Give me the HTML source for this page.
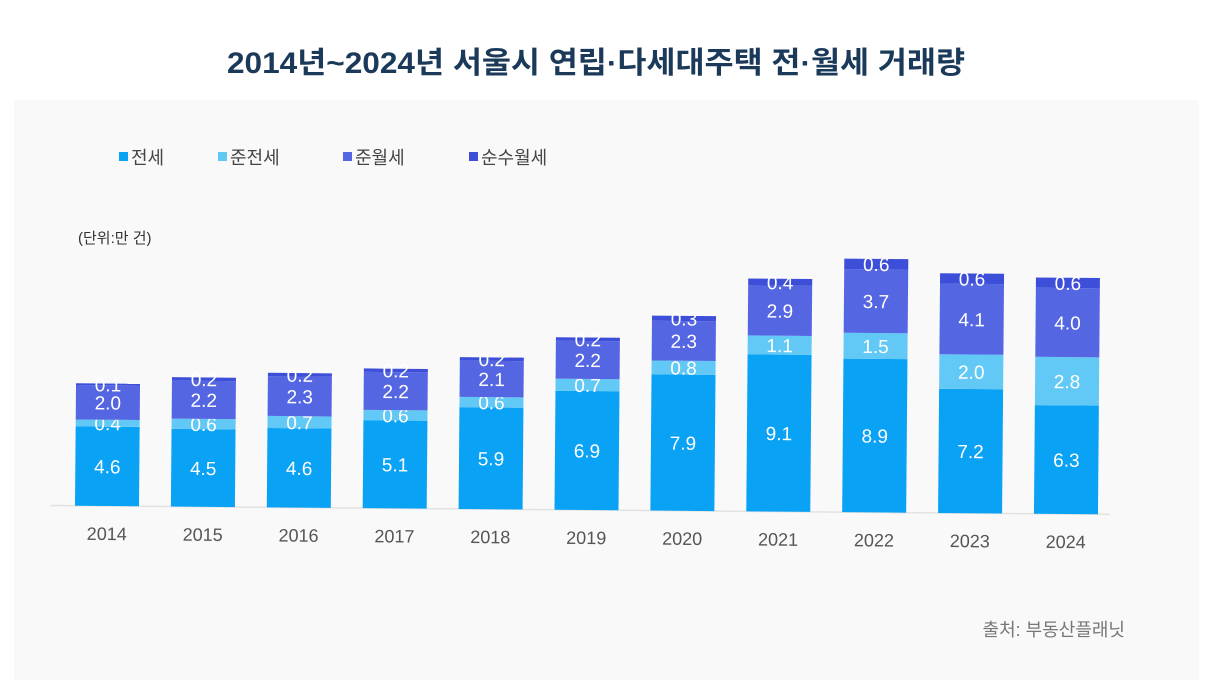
<!DOCTYPE html>
<html><head><meta charset="utf-8"><style>
html,body{margin:0;padding:0;background:#fff;}
svg{display:block;font-family:"Liberation Sans","Noto Sans CJK KR",sans-serif;}
</style></head><body>
<svg id="chart" width="1206" height="685" viewBox="0 0 1206 685">
<rect x="0" y="0" width="1206" height="685" fill="#ffffff"/>
<rect x="14" y="100" width="1185" height="580" fill="#f9f9fa"/>
<text x="596" y="73" text-anchor="middle" font-size="30" font-weight="bold" fill="#1b3a5a" textLength="738" lengthAdjust="spacingAndGlyphs">2014년~2024년 서울시 연립·다세대주택 전·월세 거래량</text>
<g id="legend"></g>
<text x="78" y="243" font-size="15" fill="#333">(단위:만 건)</text>
<g id="plot" transform="rotate(0.48 107 506)"></g>
<text x="1125" y="636" text-anchor="end" font-size="18" fill="#777">출처: 부동산플래닛</text>
</svg>
<script>
const years=["2014","2015","2016","2017","2018","2019","2020","2021","2022","2023","2024"];
const seriesNames=["전세","준전세","준월세","순수월세"];
const jeonse=[4.6,4.5,4.6,5.1,5.9,6.9,7.9,9.1,8.9,7.2,6.3];
const semiJeonse=[0.4,0.6,0.7,0.6,0.6,0.7,0.8,1.1,1.5,2.0,2.8];
const semiWolse=[2.0,2.2,2.3,2.2,2.1,2.2,2.3,2.9,3.7,4.1,4.0];
const pureWolse=[0.1,0.2,0.2,0.2,0.2,0.2,0.3,0.4,0.6,0.6,0.6];
const colors=["#0aa2f4","#62c9f6","#5566e2","#3d4fd9"];
const NS="http://www.w3.org/2000/svg";
const base=506, unit=17.25, x0=107, step=95.9, bw=64;
const yS=v=>base-v*unit;
const xS=i=>x0+i*step;
const plot=document.getElementById('plot');
const all=[jeonse,semiJeonse,semiWolse,pureWolse];
const axis=document.createElementNS(NS,'line');
axis.setAttribute('x1',50);axis.setAttribute('x2',1110);axis.setAttribute('y1',base);axis.setAttribute('y2',base);
axis.setAttribute('stroke','#e2e2e2');axis.setAttribute('stroke-width','1.5');


plot.appendChild(axis);
years.forEach((yr,i)=>{
  let cum=0;
  all.forEach((arr,s)=>{
    const v=arr[i];
    const r=document.createElementNS(NS,'rect');
    r.setAttribute('x',xS(i)-bw/2);r.setAttribute('width',bw);
    r.setAttribute('y',yS(cum+v));r.setAttribute('height',v*unit);
    r.setAttribute('fill',colors[s]);
    
    
    plot.appendChild(r);
    const t=document.createElementNS(NS,'text');
    t.setAttribute('x',xS(i));t.setAttribute('y',yS(cum+v/2)+7);
    t.setAttribute('text-anchor','middle');t.setAttribute('font-size','19');t.setAttribute('fill','#fff');
    t.textContent=v.toFixed(1);
    
    
    plot.appendChild(t);
    cum+=v;
  });
  const yl=document.createElementNS(NS,'text');
  yl.setAttribute('x',xS(i));yl.setAttribute('y',base+34);
  yl.setAttribute('text-anchor','middle');yl.setAttribute('font-size','18');yl.setAttribute('fill','#555');
  yl.textContent=yr;
  
  
  plot.appendChild(yl);
});
const legend=document.getElementById('legend');
const lx=[119,218,343,469];
seriesNames.forEach((n,s)=>{
  const r=document.createElementNS(NS,'rect');
  r.setAttribute('x',lx[s]);r.setAttribute('y',152);r.setAttribute('width',9);r.setAttribute('height',9);
  r.setAttribute('fill',colors[s]);
  
  
  legend.appendChild(r);
  const t=document.createElementNS(NS,'text');
  t.setAttribute('x',lx[s]+12);t.setAttribute('y',164);t.setAttribute('font-size','18');t.setAttribute('fill','#444');
  t.textContent=n;
  
  
  legend.appendChild(t);
});
</script>
</body></html>
